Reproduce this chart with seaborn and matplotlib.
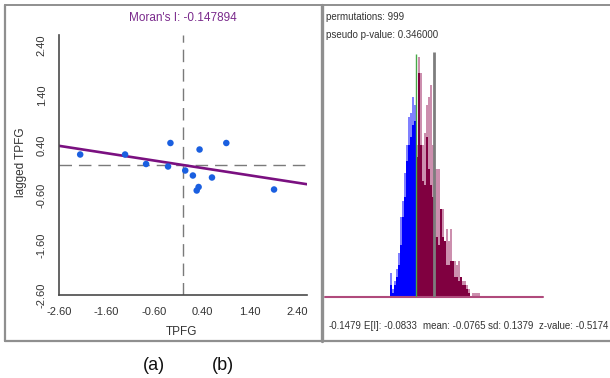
import numpy as np
import pandas as pd
import matplotlib
matplotlib.use("Agg")
import matplotlib.pyplot as plt
import seaborn as sns
from matplotlib.lines import Line2D

# ---------------- data ----------------
tpfg = [-2.15, -1.21, -0.77, -0.31, -0.26, 0.05, 0.21, 0.35, 0.61, 0.91, 0.33, 0.29, 1.91]
lagged_tpfg = [0.21, 0.21, 0.02, -0.03, 0.44, -0.11, -0.21, 0.31, -0.25, 0.44, -0.44, -0.51, -0.49]
moran_i = -0.147894
axis_ticks = [-2.6, -1.6, -0.6, 0.4, 1.4, 2.4]
tick_labels = ["-2.60", "-1.60", "-0.60", "0.40", "1.40", "2.40"]

permutations = 999
pseudo_p = 0.346
expected_i = -0.0833
perm_mean = -0.0765
perm_sd = 0.1379
z_value = -0.5174

bin_start = -0.2446
bin_width = 0.00743
counts_outer = [6, 2, 4, 7, 11, 20, 24, 31, 38, 45, 46, 50, 48,
                38, 60, 56, 38, 41, 48, 50, 53, 38,
                32, 32, 32, 22, 22, 14, 17, 14, 17,
                9, 9, 8, 9, 5, 4, 4, 3, 2,
                0, 1, 1, 1, 1]
counts_inner = [3, 1, 3, 5, 8, 13, 20, 25, 34, 38, 40, 43, 44,
                35, 56, 38, 29, 28, 40, 32, 28, 25,
                15, 15, 13, 22, 15, 14, 8, 8, 9,
                9, 5, 5, 4, 5, 3, 3, 2, 1,
                0, 0, 0, 0, 0]
n_below = 13  # bins lying below the observed Moran's I

# ---------------- style ----------------
sns.set_style("white")
plt.rcParams['font.family'] = ['Liberation Sans', 'DejaVu Sans']

W, H = 610, 378
fig = plt.figure(figsize=(W / 100, H / 100), dpi=100)


def fx(px):
    return px / W


def fy(py):
    return 1 - py / H


# ---------------- panel frames ----------------
frame_col = "#8f8f8f"
for (x0, y0, x1, y1, lw) in [(5, 5, 610, 5, 1.4), (5, 5, 5, 341, 1.6),
                             (5, 341, 610, 341, 1.6), (321.5, 5, 321.5, 341, 2.4)]:
    fig.add_artist(Line2D([fx(x0), fx(x1)], [fy(y0), fy(y1)], color=frame_col,
                          lw=lw, transform=fig.transFigure))

# ---------------- (a) Moran scatter plot ----------------
ax = fig.add_axes([fx(58.7), fy(295), (307 - 58.7) / W, (295 - 35) / H])
ax.set_facecolor("none")
ax.set_xlim(-2.6, 2.6)
ax.set_ylim(-2.6, 2.6)
ax.axvline(0, color="#7a7a7a", lw=1.0, dashes=(9, 5), zorder=1)
ax.axhline(0, color="#7a7a7a", lw=1.0, dashes=(9, 5), zorder=1)
ax.axline((0, 0), slope=moran_i, color="#7a1080", lw=1.9, zorder=2)
pts = pd.DataFrame({"TPFG": tpfg, "lagged": lagged_tpfg})
sns.scatterplot(data=pts, x="TPFG", y="lagged", ax=ax, color="#1a5fe0", s=22,
                edgecolor="none", zorder=3)

for s in ["top", "right"]:
    ax.spines[s].set_visible(False)
for s in ["left", "bottom"]:
    ax.spines[s].set_color("#4a4a4a")
    ax.spines[s].set_linewidth(1.2)
ax.set_xticks(axis_ticks)
ax.set_xticklabels(tick_labels)
ax.set_yticks(axis_ticks)
ax.set_yticklabels(tick_labels, rotation=90, va="center")
ax.tick_params(axis="both", direction="out", length=3.5, width=1.0,
               color="#4a4a4a", labelsize=8, labelcolor="#333333", pad=5)
ax.tick_params(axis="y", pad=5)
ax.set_xlabel("")
ax.set_ylabel("")

fig.text(fx(182.7), fy(18), f"Moran's I: {moran_i:.6f}", color="#7a2a8c",
         fontsize=8.5, ha="center", va="center")
fig.text(fx(181.7), fy(332), "TPFG", color="#333333", fontsize=8.5,
         ha="center", va="center")
fig.text(fx(21), fy(162.5), "lagged TPFG", color="#333333", fontsize=8.5,
         rotation=90, ha="center", va="center")

# ---------------- (b) permutation histogram ----------------
edges = bin_start + bin_width * np.arange(len(counts_outer) + 1)
hist = pd.DataFrame({
    "center": edges[:-1] + bin_width / 2,
    "outer": counts_outer,
    "inner": counts_inner,
})
low = hist.iloc[:n_below]
high = hist.iloc[n_below:]
edges_low = edges[:n_below + 1].tolist()
edges_high = edges[n_below:].tolist()

hx = fig.add_axes([fx(325), fy(297), (542.7 - 325) / W, (297 - 49) / H])
hx.set_facecolor("none")

layers = [("outer", "#8080ff", "#cc8fae"), ("inner", "#0000ff", "#800040")]
for col, c_low, c_high in layers:
    sns.histplot(data=low, x="center", weights=col, bins=edges_low,
                 color=c_low, alpha=1, edgecolor="none", linewidth=0, ax=hx)
    sns.histplot(data=high, x="center", weights=col, bins=edges_high,
                 color=c_high, alpha=1, edgecolor="none", linewidth=0, ax=hx)

hx.set_xlim(-0.4873, 0.322)
hx.set_ylim(0, 62)
hx.axhline(0, color="#b04a7c", lw=1.5, clip_on=False)
hx.vlines(moran_i, 0, 60.8, color="#47a847", lw=1.0)
hx.vlines(expected_i, 0, 61.3, color="#7d7d7d", lw=2.0)
hx.set_axis_off()

txt_col = "#333333"
fig.text(fx(326), fy(16.5), f"permutations: {permutations}", fontsize=7,
         color=txt_col, ha="left", va="center")
fig.text(fx(326), fy(35.5), f"pseudo p-value: {pseudo_p:.6f}", fontsize=7,
         color=txt_col, ha="left", va="center")

stats = [(329, f"{moran_i:.4f}"), (364.5, f"E[I]: {expected_i:.4f}"),
         (423, f"mean: {perm_mean:.4f}"), (488.5, f"sd: {perm_sd:.4f}"),
         (539, f"z-value: {z_value:.4f}")]
for xp, s in stats:
    fig.text(fx(xp), fy(326), s, fontsize=7, color=txt_col, ha="left", va="center")

# ---------------- sub-figure labels ----------------
fig.text(fx(154), fy(366), "(a)", fontsize=13, color="#111111", ha="center", va="center")
fig.text(fx(222.5), fy(366), "(b)", fontsize=13, color="#111111", ha="center", va="center")

fig.savefig("out.png", dpi=100)
